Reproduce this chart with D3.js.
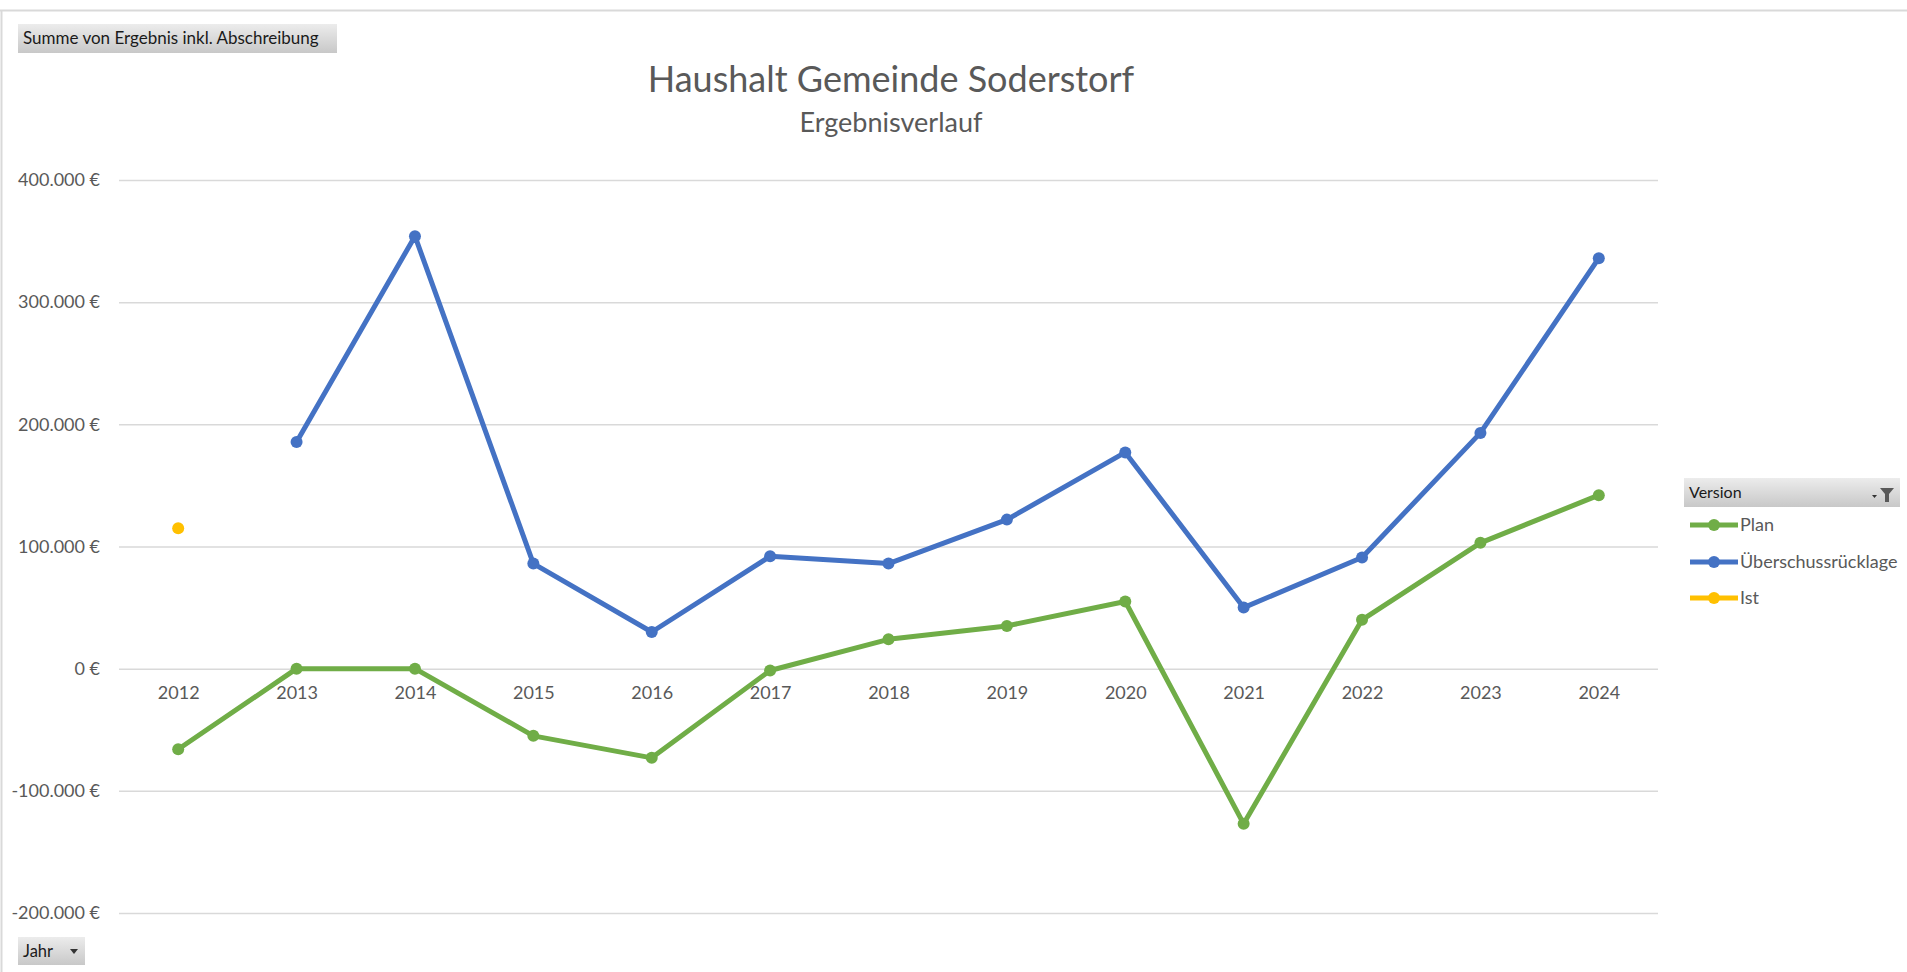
<!DOCTYPE html>
<html lang="de">
  <head>
    <meta charset="UTF-8" />
    <title>Haushalt Gemeinde Soderstorf</title>
    <script src="https://cdn.jsdelivr.net/npm/d3@7"></script>
    <style>
      html, body { margin: 0; padding: 0; background: #fff; }
      svg { display: block; font-family: Lato, "Open Sans", sans-serif; }
    </style>
  </head>
  <body>
    <div id="chart"></div>
    <script>
      // Daten
      const years = ["2012", "2013", "2014", "2015", "2016", "2017", "2018", "2019", "2020", "2021", "2022", "2023", "2024"];
      const plan = [-66000, 0, 0, -55000, -73000, -1500, 24000, 35000, 55000, -127000, 40000, 103000, 142000];
      const ueberschuss = [null, 185500, 354000, 86000, 30000, 92000, 86000, 122000, 177000, 50000, 91000, 193000, 336000];
      const ist = [115000, null, null, null, null, null, null, null, null, null, null, null, null];
      const yTicks = [-200000, -100000, 0, 100000, 200000, 300000, 400000];
      const seriesNames = ["Plan", "Überschussrücklage", "Ist"];
      const seriesColors = ["#70ad47", "#4472c4", "#ffc000"];

      const width = 1907;
      const height = 972;
      const plot = { left: 119, right: 1658, top: 180, bottom: 913 };

      const de = d3.formatLocale({
        decimal: ",", thousands: ".", grouping: [3], currency: ["", " €"], minus: "-"
      });
      const euro = de.format("$,.0f");

      const svg = d3.select("#chart").append("svg")
        .attr("width", width)
        .attr("height", height);

      // Verläufe für die Schaltflächen
      const defs = svg.append("defs");
      const grad = defs.append("linearGradient")
        .attr("id", "btn").attr("x1", 0).attr("y1", 0).attr("x2", 0).attr("y2", 1);
      grad.append("stop").attr("offset", "0%").attr("stop-color", "#ececec");
      grad.append("stop").attr("offset", "100%").attr("stop-color", "#c8c8c8");

      // Rahmen
      svg.append("line").attr("x1", 0).attr("x2", width).attr("y1", 10.5).attr("y2", 10.5)
        .attr("stroke", "#d9d9d9").attr("stroke-width", 2);
      svg.append("line").attr("x1", 1.5).attr("x2", 1.5).attr("y1", 10).attr("y2", height)
        .attr("stroke", "#d9d9d9").attr("stroke-width", 2);

      // Feldschaltflächen
      function button(x, y, w, h, label, fontSize) {
        const g = svg.append("g").attr("transform", `translate(${x},${y})`);
        g.append("rect").attr("width", w).attr("height", h).attr("fill", "url(#btn)");
        g.append("text").attr("x", 5).attr("y", h / 2).attr("dy", "0.35em")
          .attr("font-size", fontSize).attr("fill", "#1a1a1a").text(label);
        return g;
      }
      button(18, 24, 319, 29, "Summe von Ergebnis inkl. Abschreibung", 17);
      const jahr = button(18, 937, 67, 28, "Jahr", 16.5);
      jahr.append("path").attr("d", "M52,12 L60,12 L56,17 Z").attr("fill", "#333");

      // Titel
      svg.append("text").attr("x", 891).attr("y", 92).attr("text-anchor", "middle")
        .attr("font-size", 36).attr("fill", "#595959").text("Haushalt Gemeinde Soderstorf");
      svg.append("text").attr("x", 891).attr("y", 132).attr("text-anchor", "middle")
        .attr("font-size", 27).attr("fill", "#595959").text("Ergebnisverlauf");

      // Skalen
      const x = d3.scalePoint().domain(years).range([plot.left, plot.right]).padding(0.5);
      const y = d3.scaleLinear().domain([-200000, 400000]).range([plot.bottom, plot.top]);

      // y-Achse mit Gitterlinien
      const yAxis = svg.append("g")
        .attr("transform", `translate(${plot.left},0)`)
        .call(d3.axisLeft(y).tickValues(yTicks).tickFormat(euro)
          .tickSize(-(plot.right - plot.left)).tickPadding(19));
      yAxis.select(".domain").remove();
      yAxis.selectAll(".tick line").attr("stroke", "#d9d9d9").attr("stroke-width", 1.5);
      yAxis.selectAll(".tick text").attr("font-size", 18).attr("fill", "#595959")
        .attr("font-family", "Lato, sans-serif");

      // x-Achse
      const xAxis = svg.append("g")
        .attr("transform", `translate(0,${y(0)})`)
        .call(d3.axisBottom(x).tickSize(0).tickPadding(18));
      xAxis.select(".domain").remove();
      xAxis.selectAll(".tick text").attr("font-size", 18).attr("fill", "#595959")
        .attr("font-family", "Lato, sans-serif");

      // Linien
      const allSeries = [plan, ueberschuss, ist];
      const line = d3.line()
        .defined((d) => d != null)
        .x((d, i) => x(years[i]))
        .y((d) => y(d));

      allSeries.forEach((values, s) => {
        const g = svg.append("g");
        g.append("path")
          .attr("d", line(values))
          .attr("fill", "none")
          .attr("stroke", seriesColors[s])
          .attr("stroke-width", 5)
          .attr("stroke-linejoin", "round");
        g.selectAll("circle")
          .data(values.map((v, i) => ({ v, year: years[i] })).filter((d) => d.v != null))
          .enter()
          .append("circle")
          .attr("cx", (d) => x(d.year))
          .attr("cy", (d) => y(d.v))
          .attr("r", 6)
          .attr("fill", seriesColors[s]);
      });

      // Legende
      const legend = svg.append("g").attr("transform", "translate(1684,478)");
      legend.append("rect").attr("width", 216).attr("height", 29).attr("fill", "url(#btn)");
      legend.append("text").attr("x", 5).attr("y", 14.5).attr("dy", "0.35em")
        .attr("font-size", 16).attr("fill", "#1a1a1a").text("Version");
      legend.append("path").attr("d", "M196,10 L210,10 L205,16 L205,24 L201,24 L201,16 Z").attr("fill", "#595959");
      legend.append("path").attr("d", "M188,17 L193,17 L190.5,20 Z").attr("fill", "#333");

      const legendRows = [47, 84, 120];
      seriesNames.forEach((name, i) => {
        const row = legend.append("g").attr("transform", `translate(0,${legendRows[i]})`);
        row.append("line").attr("x1", 6).attr("x2", 54)
          .attr("stroke", seriesColors[i]).attr("stroke-width", 5);
        row.append("circle").attr("cx", 30).attr("r", 6).attr("fill", seriesColors[i]);
        row.append("text").attr("x", 56).attr("dy", "0.35em")
          .attr("font-size", 18).attr("fill", "#595959").text(name);
      });
    </script>
  </body>
</html>
